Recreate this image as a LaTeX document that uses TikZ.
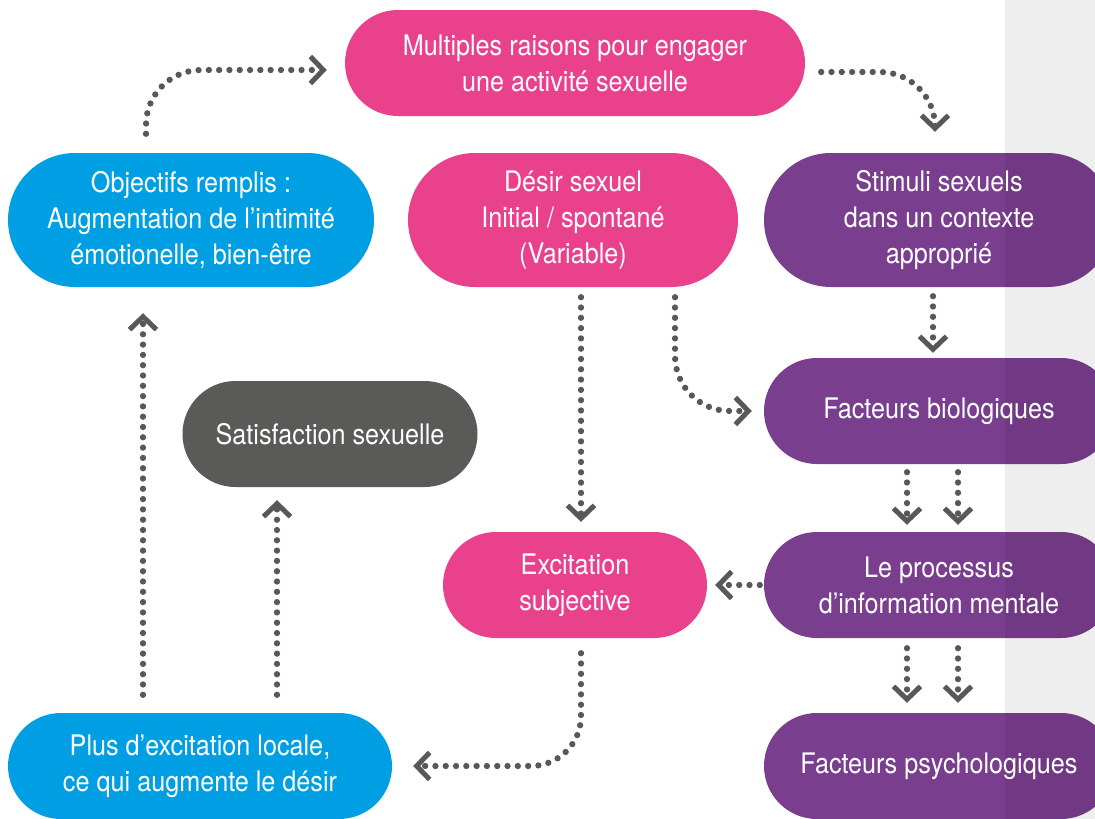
\documentclass[tikz,border=0pt]{standalone}
\usepackage{fontspec}
\setmainfont{TeX Gyre Heros}[FakeStretch=0.89]
\usepackage{xcolor}
\usetikzlibrary{arrows.meta}
\definecolor{pinkbox}{HTML}{E9418B}
\definecolor{bluebox}{HTML}{009FE3}
\definecolor{violetbox}{HTML}{7A3E8F}
\definecolor{greybox}{HTML}{5A5A59}
\definecolor{dotgrey}{HTML}{58585A}
\definecolor{band}{HTML}{EEEEEE}
\newcommand{\boxfont}{\fontsize{28.3pt}{36pt}\selectfont}

\begin{document}
\begin{tikzpicture}[
  x=1pt, y=-1pt,
  pill/.style={
    rectangle, rounded corners=53pt,
    minimum height=106pt, inner sep=0pt,
    text=white, align=center, font=\boxfont
  },
  tallpill/.style={pill, rounded corners=67pt, minimum height=134pt},
  pinkpill/.style={pill, fill=pinkbox},
  bluepill/.style={pill, fill=bluebox},
  violetpill/.style={pill, fill=violetbox, minimum width=350pt,
    path picture={
      \fill[black, opacity=0.07, sharp corners]
        (bandedge |- path picture bounding box.north)
        rectangle (path picture bounding box.south east);
    }
  },
  flow/.style={draw=dotgrey, line width=6.3pt, line cap=round,
    dash pattern=on 0pt off 10.3pt,
    -{Straight Barb[length=13pt, width=27pt, line width=5pt]}}
]

% --- canvas and grey side band ---
\useasboundingbox (0,0) rectangle (1095,819);
\fill[white] (0,0) rectangle (1095,819);
\fill[band] (1005,0) rectangle (1095,819);
\coordinate (bandedge) at (1005,0);

% --- top row ---
\node[pinkpill, minimum width=460pt] (raisons) at (575,63)
  {Multiples raisons pour engager\\une activité sexuelle};

% --- second row ---
\node[bluepill, tallpill, minimum width=366pt] (objectifs) at (191,220)
  {Objectifs remplis :\\Augmentation de l’intimité\\émotionelle, bien-être};
\node[pinkpill, tallpill, minimum width=330pt] (desir) at (573,220)
  {Désir sexuel\\Initial / spontané\\(Variable)};
\node[violetpill, tallpill] (stimuli) at (939,220)
  {Stimuli sexuels\\dans un contexte\\approprié};

% --- middle ---
\node[pill, fill=greybox, minimum width=295pt] (satisf) at (330,434)
  {Satisfaction sexuelle};
\node[violetpill] (bio) at (939,411) {Facteurs biologiques};
\node[pinkpill, minimum width=264pt] (excit) at (575,585)
  {Excitation\\subjective};
\node[violetpill] (mental) at (939,585)
  {Le processus\\d’information mentale};

% --- bottom row ---
\node[bluepill, minimum width=384pt] (locale) at (200,766)
  {Plus d’excitation locale,\\ce qui augmente le désir};
\node[violetpill] (psycho) at (939,766) {Facteurs psychologiques};

% --- dotted connectors ---
\draw[flow, rounded corners=55pt, shorten <=19pt, shorten >=18pt]
  ([xshift=-45pt]objectifs.north) |- ([yshift=-7pt]raisons.west);
\draw[flow, rounded corners=55pt, shorten <=16pt, shorten >=21pt]
  ([yshift=-9pt]raisons.east) -| ([xshift=-4pt]stimuli.north);
\draw[flow, shorten <=9pt, shorten >=5pt]
  ([xshift=-6pt]stimuli.south) -- ([xshift=-6pt]bio.north);
\draw[flow, shorten <=10pt, shorten >=10pt]
  ([xshift=8pt]desir.south) -- ([xshift=6pt]excit.north);
\draw[flow, rounded corners=55pt, shorten <=10pt, shorten >=12pt]
  ([xshift=102pt]desir.south) |- (bio.west);
\foreach \dx in {-32,19} {
  \draw[flow, shorten <=8pt, shorten >=7pt]
    ([xshift=\dx pt]bio.south) -- ([xshift=\dx pt]mental.north);
  \draw[flow, shorten <=10pt, shorten >=10pt]
    ([xshift=\dx pt]mental.south) -- ([xshift=\dx pt]psycho.north);
}
\draw[flow, shorten <=4pt, shorten >=8pt] (mental.west) -- (excit.east);
\draw[flow, rounded corners=50pt, shorten <=15pt, shorten >=21pt]
  ([xshift=6pt]excit.south) |- (locale.east);
\draw[flow, shorten <=18pt, shorten >=26pt]
  ([xshift=-57pt]locale.north) -- ([xshift=-48pt]objectifs.south);
\draw[flow, shorten <=18pt, shorten >=13pt]
  ([xshift=77pt]locale.north) -- ([xshift=-53pt]satisf.south);

\end{tikzpicture}
\end{document}
